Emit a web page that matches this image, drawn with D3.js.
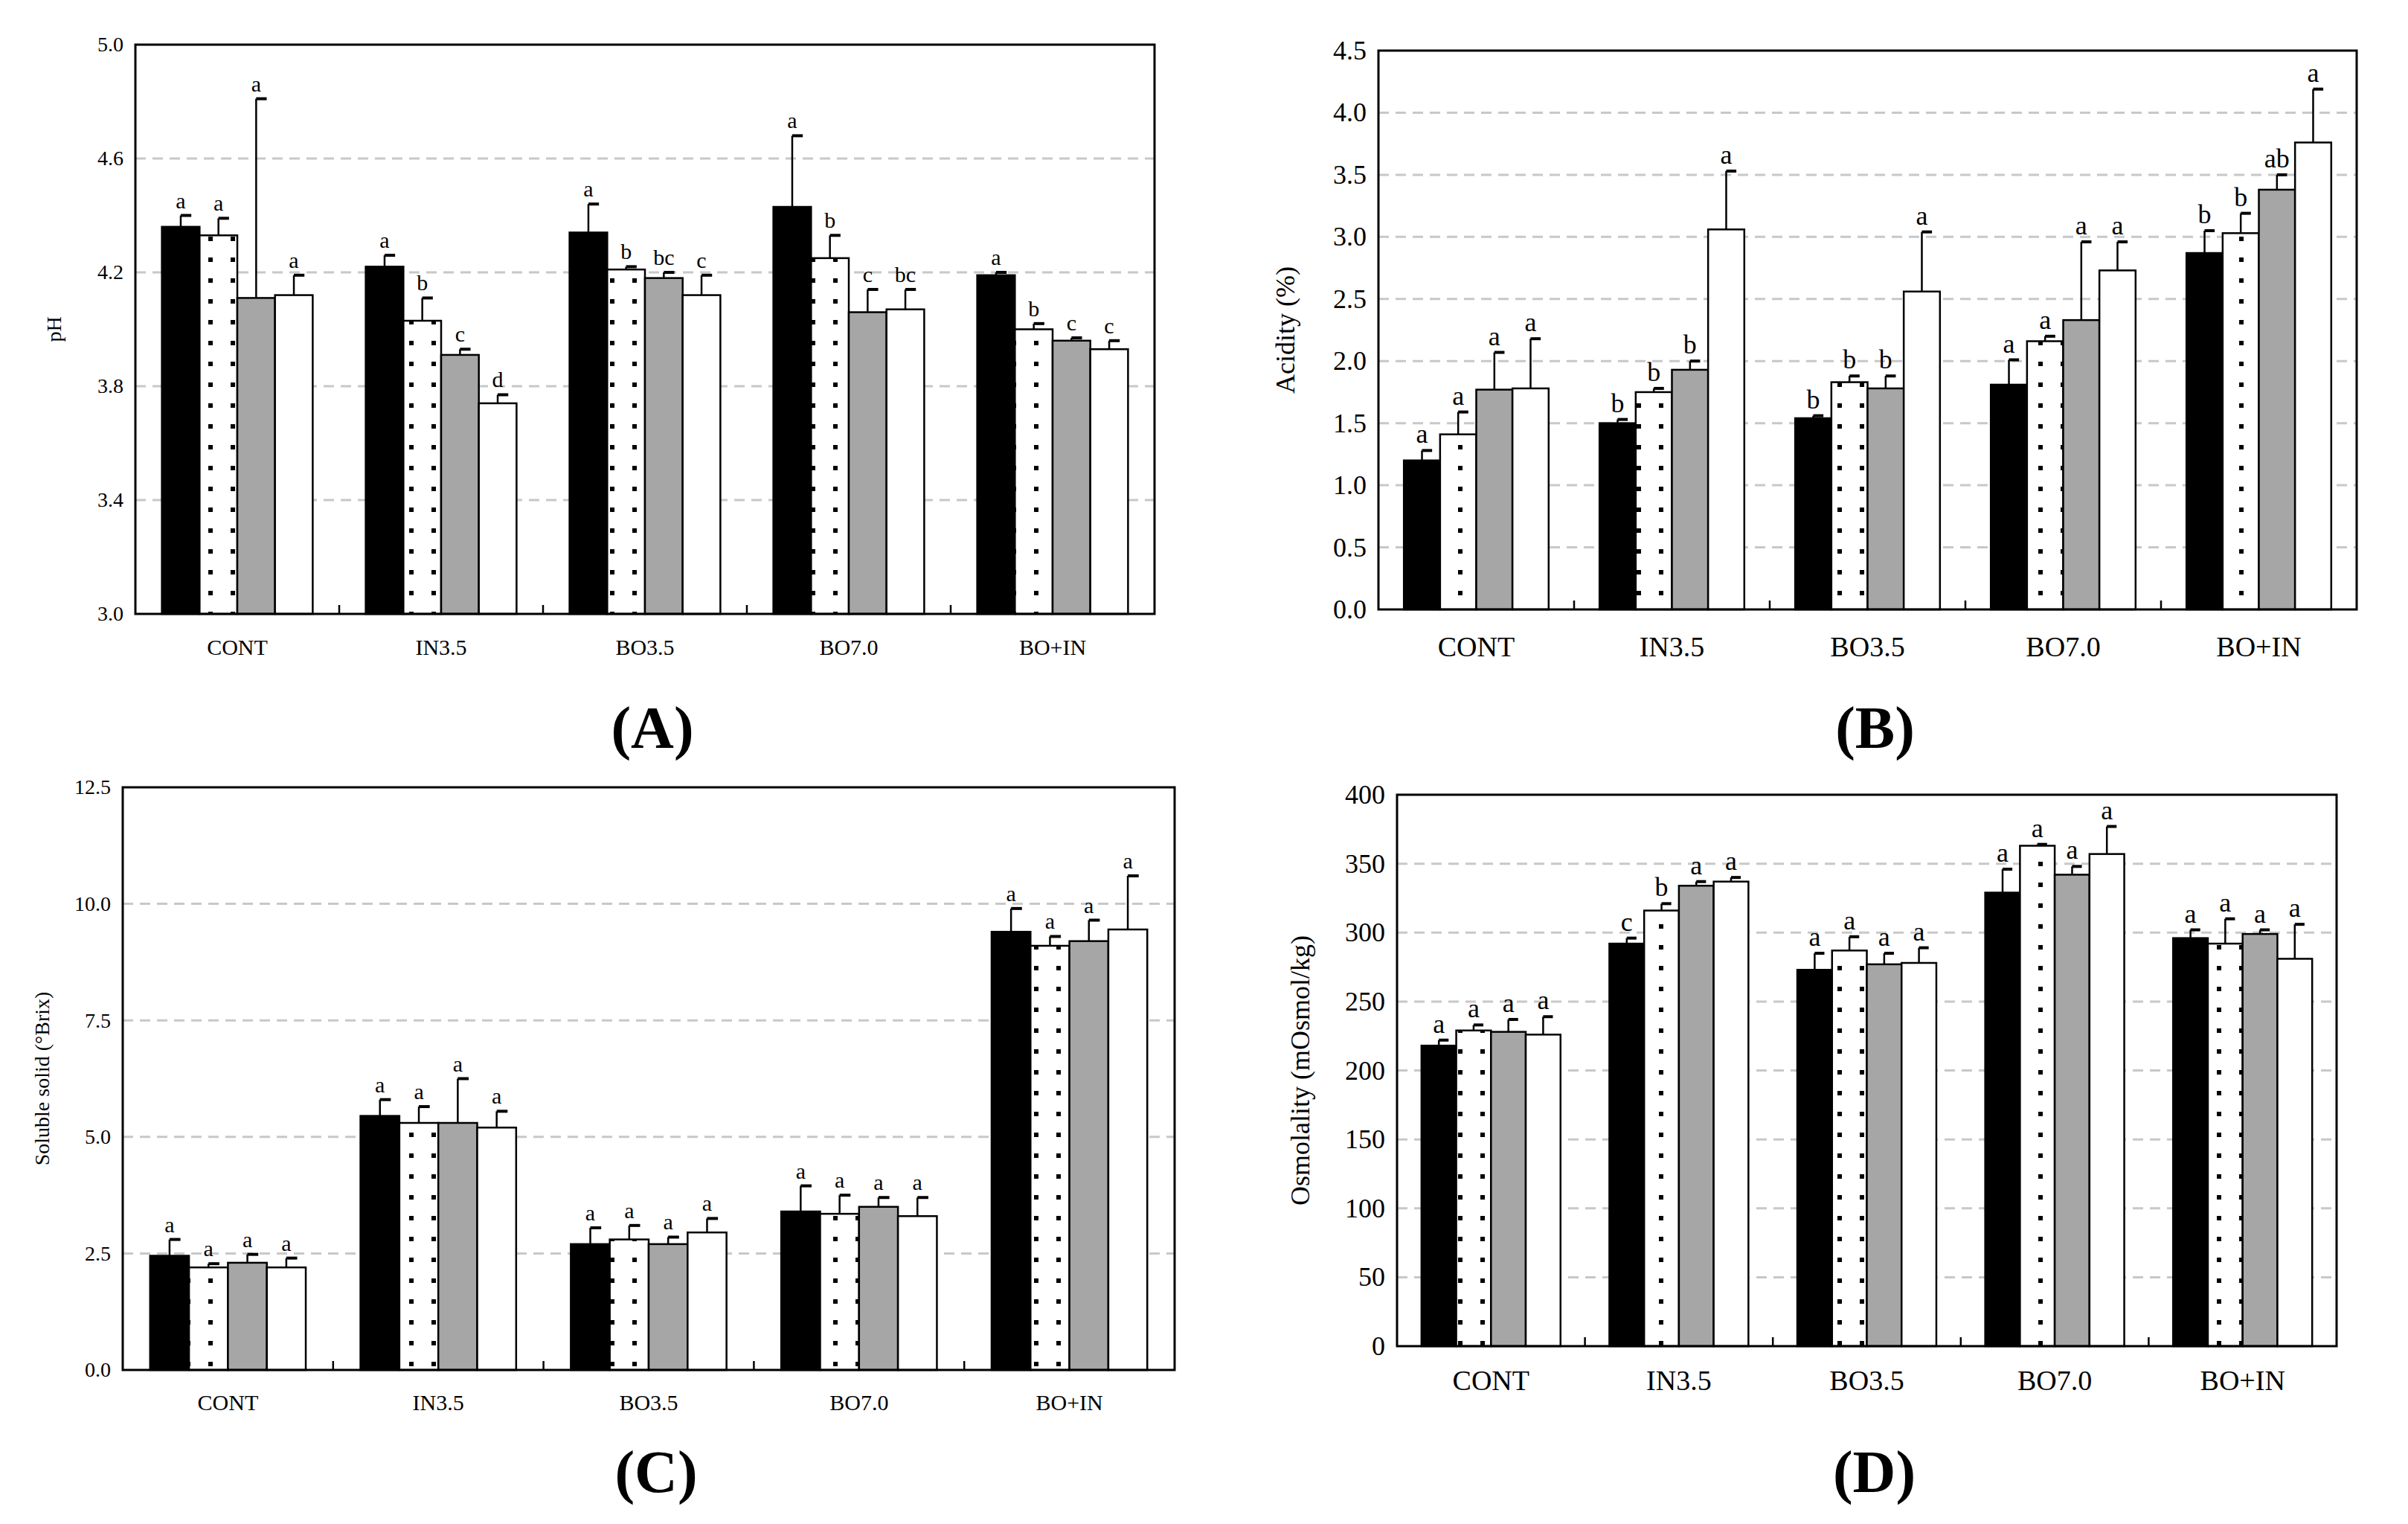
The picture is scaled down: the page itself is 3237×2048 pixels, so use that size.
<!DOCTYPE html>
<html><head><meta charset="utf-8">
<script src="https://cdn.jsdelivr.net/npm/d3@7"></script>
<style>body{margin:0;background:#fff}svg{display:block}text{font-family:"Liberation Serif","Times New Roman",serif}</style>
</head><body><svg id="c" width="3237" height="2048"></svg>
<script>
const categories=["CONT","IN3.5","BO3.5","BO7.0","BO+IN"];
// pH
const phMean=[[4.36,4.33,4.11,4.12],[4.22,4.03,3.91,3.74],[4.34,4.21,4.18,4.12],[4.43,4.25,4.06,4.07],[4.19,4.00,3.96,3.93]];
const phErr=[[0.04,0.06,0.70,0.07],[0.04,0.08,0.02,0.03],[0.10,0.01,0.02,0.07],[0.25,0.08,0.08,0.07],[0.01,0.02,0.01,0.03]];
const phLet=[["a","a","a","a"],["a","b","c","d"],["a","b","bc","c"],["a","b","c","bc"],["a","b","c","c"]];
// Acidity
const acMean=[[1.20,1.41,1.77,1.78],[1.50,1.75,1.93,3.06],[1.54,1.83,1.78,2.56],[1.81,2.16,2.33,2.73],[2.87,3.03,3.38,3.76]];
const acErr=[[0.08,0.18,0.30,0.40],[0.03,0.03,0.07,0.47],[0.02,0.05,0.10,0.48],[0.20,0.04,0.63,0.23],[0.18,0.16,0.12,0.43]];
const acLet=[["a","a","a","a"],["b","b","b","a"],["b","b","b","a"],["a","a","a","a"],["b","b","ab","a"]];
// Soluble solid
const ssMean=[[2.45,2.20,2.30,2.20],[5.45,5.30,5.30,5.20],[2.70,2.80,2.70,2.95],[3.40,3.35,3.50,3.30],[9.40,9.10,9.20,9.45]];
const ssErr=[[0.35,0.08,0.18,0.20],[0.35,0.35,0.95,0.35],[0.35,0.30,0.15,0.30],[0.55,0.40,0.20,0.40],[0.50,0.20,0.45,1.15]];
const ssLet=[["a","a","a","a"],["a","a","a","a"],["a","a","a","a"],["a","a","a","a"],["a","a","a","a"]];
// Osmolality
const osMean=[[218,229,228,226],[292,316,334,337],[273,287,277,278],[329,363,342,357],[296,292,299,281]];
const osErr=[[4,4,9,13],[4,5,3,3],[12,10,8,11],[17,1,6,20],[6,18,3,25]];
const osLet=[["a","a","a","a"],["c","b","a","a"],["a","a","a","a"],["a","a","a","a"],["a","a","a","a"]];

const svg=d3.select("#c");
const defs=svg.append("defs");
const pat=defs.append("pattern").attr("id","dots").attr("patternUnits","userSpaceOnUse").attr("width",30).attr("height",56);
pat.append("rect").attr("width",30).attr("height",56).attr("fill","#fff");
pat.append("rect").attr("x",10).attr("y",10).attr("width",6).attr("height",6).attr("fill","#000");
pat.append("rect").attr("x",10).attr("y",38).attr("width",6).attr("height",6).attr("fill","#000");
const fills=["#000","url(#dots)","#a6a6a6","#fff"];

function panel(o){
  const {x0,x1,y0,y1,dom,ticks,fmt,mean,err,let_,ylabel,ylx,tfs,cfs,lfs,catY,lab,labY}=o;
  const g=svg.append("g");
  const x=d3.scaleBand().domain(categories).range([x0,x1]);
  const y=d3.scaleLinear().domain(dom).range([y1,y0]);
  const bw=x.bandwidth()*0.185, gw=bw*4;
  // grid
  g.selectAll(".gr").data(ticks.slice(1,-1)).enter().append("line")
   .attr("x1",x0).attr("x2",x1).attr("y1",d=>y(d)).attr("y2",d=>y(d))
   .attr("stroke","#c8c8c8").attr("stroke-width",3).attr("stroke-dasharray","14,9");
  categories.forEach((c,i)=>{
    const gx=x(c)+(x.bandwidth()-gw)/2;
    mean[i].forEach((v,j)=>{
      const bx=gx+j*bw;
      g.append("rect").attr("x",bx).attr("y",y(v)).attr("width",bw).attr("height",y(dom[0])-y(v))
        .attr("fill",fills[j]).attr("stroke","#000").attr("stroke-width",2.5);
      const cx=bx+bw/2, ye=y(v+err[i][j]);
      g.append("line").attr("x1",cx).attr("x2",cx).attr("y1",y(v)).attr("y2",ye).attr("stroke","#000").attr("stroke-width",2.5);
      g.append("line").attr("x1",cx).attr("x2",cx+bw*0.28).attr("y1",ye).attr("y2",ye).attr("stroke","#000").attr("stroke-width",4);
      g.append("text").attr("x",cx).attr("y",ye-10).attr("text-anchor","middle").attr("font-size",lfs).text(let_[i][j]);
    });
  });
  // frame
  g.append("rect").attr("x",x0).attr("y",y0).attr("width",x1-x0).attr("height",y1-y0).attr("fill","none").attr("stroke","#000").attr("stroke-width",3);
  // x ticks at boundaries
  categories.slice(1).forEach(c=>g.append("line").attr("x1",x(c)).attr("x2",x(c)).attr("y1",y1).attr("y2",y1-12).attr("stroke","#000").attr("stroke-width",2.5));
  // y axis
  const ya=d3.axisLeft(y).tickValues(ticks).tickFormat(fmt).tickSize(0).tickPadding(16);
  const ag=g.append("g").attr("transform",`translate(${x0},0)`).call(ya);
  ag.select(".domain").remove();
  ag.selectAll("text").attr("font-size",tfs).attr("font-family","Liberation Serif").attr("fill","#000");
  categories.forEach(c=>g.append("text").attr("x",x(c)+x.bandwidth()/2).attr("y",catY).attr("text-anchor","middle").attr("font-size",cfs).text(c));
  g.append("text").attr("transform",`translate(${ylx},${(y0+y1)/2}) rotate(-90)`).attr("text-anchor","middle").attr("font-size",tfs).text(ylabel);
  g.append("text").attr("x",(x0+x1)/2+10).attr("y",labY).attr("text-anchor","middle").attr("font-size",80).attr("font-weight","bold").text(lab);
}
panel({x0:182,x1:1552,y0:60,y1:825,dom:[3.0,5.0],ticks:[3.0,3.4,3.8,4.2,4.6,5.0],fmt:d3.format(".1f"),mean:phMean,err:phErr,let_:phLet,ylabel:"pH",ylx:82,tfs:28,cfs:30,lfs:30,catY:880,lab:"(A)",labY:1005});
panel({x0:1853,x1:3168,y0:68,y1:819,dom:[0,4.5],ticks:[0,0.5,1,1.5,2,2.5,3,3.5,4,4.5],fmt:d3.format(".1f"),mean:acMean,err:acErr,let_:acLet,ylabel:"Acidity (%)",ylx:1740,tfs:36,cfs:38,lfs:36,catY:882,lab:"(B)",labY:1005});
panel({x0:165,x1:1579,y0:1058,y1:1841,dom:[0,12.5],ticks:[0,2.5,5,7.5,10,12.5],fmt:d3.format(".1f"),mean:ssMean,err:ssErr,let_:ssLet,ylabel:"Soluble solid (°Brix)",ylx:66,tfs:28,cfs:30,lfs:30,catY:1895,lab:"(C)",labY:2005});
panel({x0:1878,x1:3141,y0:1068,y1:1809,dom:[0,400],ticks:[0,50,100,150,200,250,300,350,400],fmt:d3.format("d"),mean:osMean,err:osErr,let_:osLet,ylabel:"Osmolality (mOsmol/kg)",ylx:1760,tfs:36,cfs:38,lfs:36,catY:1868,lab:"(D)",labY:2005});
</script></body></html>
